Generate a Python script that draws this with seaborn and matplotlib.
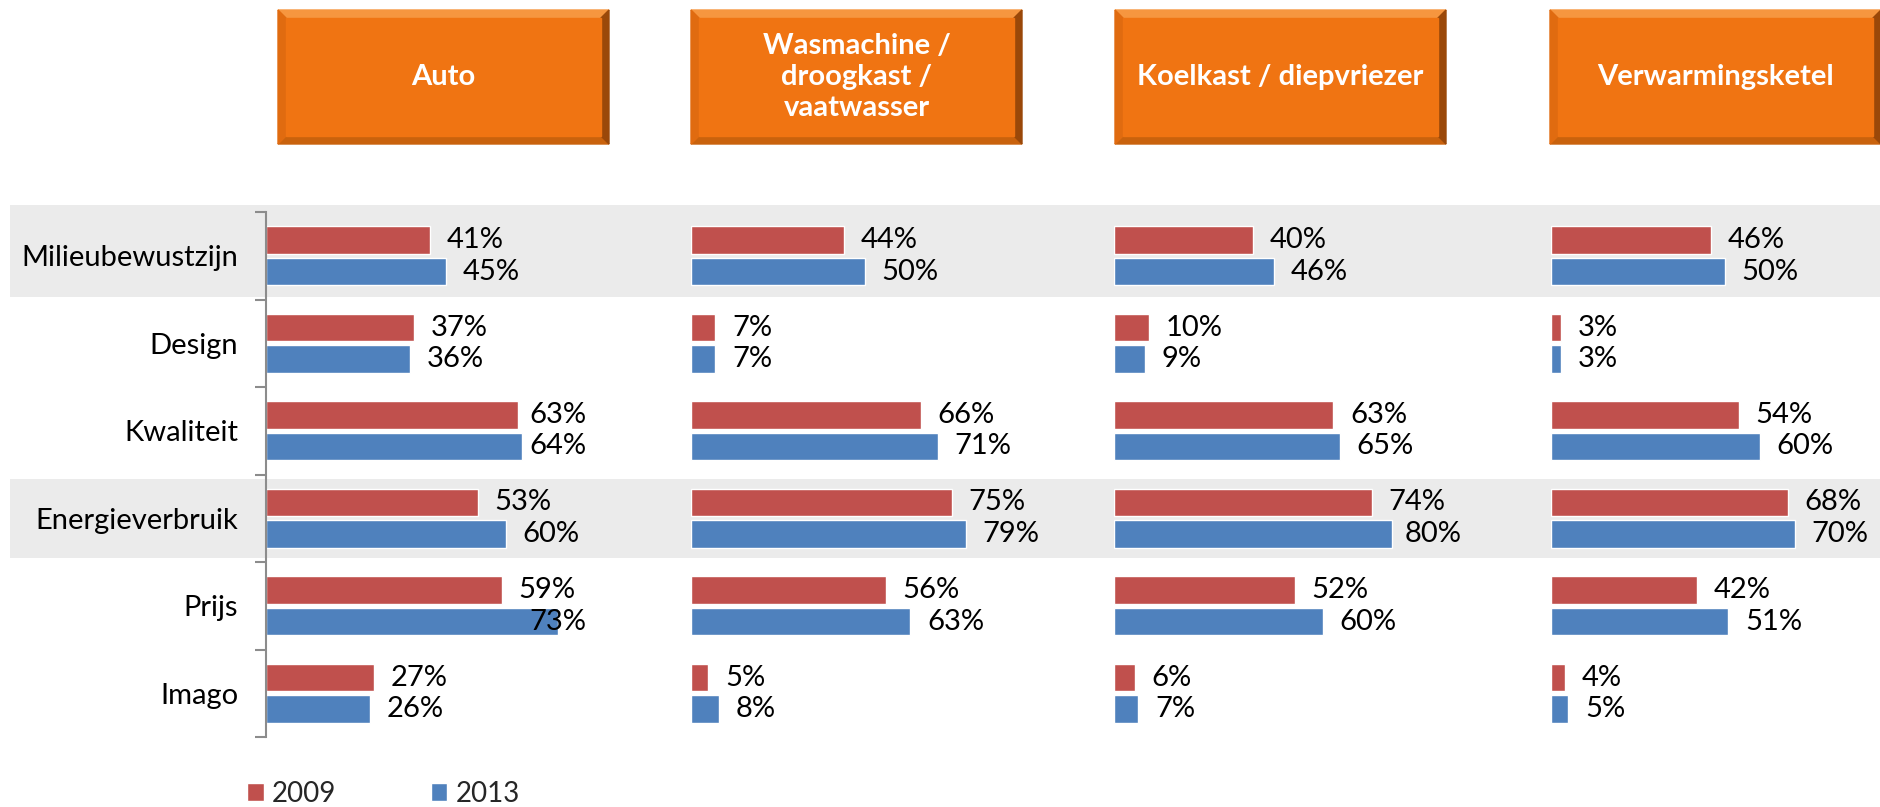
import pandas as pd
import seaborn as sns
import matplotlib.pyplot as plt
from matplotlib.patches import Rectangle, Polygon

# data
categorieen = ['Milieubewustzijn', 'Design', 'Kwaliteit', 'Energieverbruik', 'Prijs', 'Imago']
jaren = ['2009', '2013']
producten = ['Auto', 'Wasmachine /\ndroogkast /\nvaatwasser', 'Koelkast / diepvriezer', 'Verwarmingsketel']

auto_2009 = [41, 37, 63, 53, 59, 27]
auto_2013 = [45, 36, 64, 60, 73, 26]
was_2009 = [44, 7, 66, 75, 56, 5]
was_2013 = [50, 7, 71, 79, 63, 8]
koel_2009 = [40, 10, 63, 74, 52, 6]
koel_2013 = [46, 9, 65, 80, 60, 7]
verw_2009 = [46, 3, 54, 68, 42, 4]
verw_2013 = [50, 3, 60, 70, 51, 5]

reeksen = [(auto_2009, auto_2013), (was_2009, was_2013),
           (koel_2009, koel_2013), (verw_2009, verw_2013)]
kleuren = {'2009': '#C0504D', '2013': '#4F81BD'}

# layout (pixels)
W, H = 1880, 807
paneel_x = [266, 691, 1114, 1551]
paneel_w = [320, 348, 348, 348]
paneel_max = [80, 100, 100, 100]
kop_x = [278, 691, 1115, 1550]
kop_w = 331
plot_top, plot_bot = 212, 737
fs = 21

sns.set_theme(style='white')
plt.rcParams['font.family'] = ['Lato', 'DejaVu Sans']

fig = plt.figure(figsize=(W / 100, H / 100), dpi=100)

def fx(px):
    return px / W

def fy(py):
    return 1 - py / H

bottom = fy(plot_bot)
height = (plot_bot - plot_top) / H

# grey bands behind Milieubewustzijn and Energieverbruik
bg = fig.add_axes([fx(10), bottom, 1 - fx(10), height], zorder=0)
bg.set_ylim(len(categorieen) - 0.5, -0.5)
bg.set_xlim(0, 1)
bg.axhspan(-0.58, 0.47, color='#EBEBEB', lw=0, clip_on=False)
bg.axhspan(2.55, 3.45, color='#EBEBEB', lw=0, clip_on=False)
bg.axis('off')

# header boxes
def kop(x, tekst):
    y0, y1 = 10, 144
    b = 8
    x1 = x + kop_w
    pts = lambda p: [(fx(a), fy(c)) for a, c in p]
    fig.add_artist(Polygon(pts([(x, y0), (x1, y0), (x1 - b, y0 + b), (x + b, y0 + b)]),
                           closed=True, color='#F6963F', transform=fig.transFigure))
    fig.add_artist(Polygon(pts([(x, y1), (x1, y1), (x1 - b, y1 - b), (x + b, y1 - b)]),
                           closed=True, color='#C9620D', transform=fig.transFigure))
    fig.add_artist(Polygon(pts([(x1, y0), (x1, y1), (x1 - b, y1 - b), (x1 - b, y0 + b)]),
                           closed=True, color='#9A4809', transform=fig.transFigure))
    fig.add_artist(Polygon(pts([(x, y0), (x, y1), (x + b, y1 - b), (x + b, y0 + b)]),
                           closed=True, color='#E06B10', transform=fig.transFigure))
    fig.add_artist(Rectangle((fx(x + b), fy(y1 - b)), (kop_w - 2 * b) / W, (y1 - y0 - 2 * b) / H,
                             color='#F07412', transform=fig.transFigure))
    fig.text(fx(x + kop_w / 2), fy((y0 + y1) / 2), tekst, color='white', fontsize=fs,
             fontweight='bold', ha='center', va='center', linespacing=1.25)

for x, p in zip(kop_x, producten):
    kop(x, p)

assen = []
for i, (r2009, r2013) in enumerate(reeksen):
    df = pd.DataFrame({
        'Kenmerk': categorieen * 2,
        'Jaar': ['2009'] * len(categorieen) + ['2013'] * len(categorieen),
        'Percentage': r2009 + r2013,
    })
    ax = fig.add_axes([fx(paneel_x[i]), bottom, paneel_w[i] / W, height], zorder=2)
    sns.barplot(data=df, x='Percentage', y='Kenmerk', hue='Jaar', hue_order=jaren,
                order=categorieen, palette=kleuren, orient='h', width=0.72, gap=0.12,
                saturation=1, ax=ax, legend=(i == 0))
    ax.set_facecolor('none')
    ax.set_xlim(0, paneel_max[i])
    ax.set_ylim(len(categorieen) - 0.5, -0.5)
    ax.set_xlabel('')
    ax.set_ylabel('')
    ax.set_xticks([])
    for s in ax.spines.values():
        s.set_visible(False)
    for c in ax.containers:
        ax.bar_label(c, labels=[f'{v:.0f}%' for v in c.datavalues], padding=12,
                     fontsize=fs, color='black')
    if i == 0:
        ax.spines['left'].set_visible(True)
        ax.spines['left'].set_color('#8C8C8C')
        ax.spines['left'].set_linewidth(1.5)
        ax.set_yticks([k + 0.5 for k in range(-1, len(categorieen))], minor=True)
        ax.tick_params(axis='y', which='minor', left=True, direction='out', length=8,
                       width=1.5, color='#8C8C8C')
        ax.tick_params(axis='y', which='major', length=0, pad=20, labelsize=fs,
                       labelcolor='black')
    else:
        ax.set_yticks([])
    assen.append(ax)

# legend
sns.move_legend(assen[0], 'center left', bbox_to_anchor=(fx(247), fy(794)),
                bbox_transform=fig.transFigure, ncol=2, frameon=False, title=None,
                fontsize=20, handlelength=0.6, handleheight=0.6, handletextpad=0.3,
                columnspacing=3.4, borderaxespad=0, borderpad=0)

# keep labels inside the plot area, like Excel does
fig.canvas.draw()
r = fig.canvas.get_renderer()
for ax in assen:
    rechts = ax.get_window_extent(r).x1
    for t in ax.texts:
        over = t.get_window_extent(r).x1 - rechts
        if over > 0:
            t.xyann = (t.xyann[0] - over * 72 / fig.dpi, t.xyann[1])

fig.savefig('out.png', dpi=100)
